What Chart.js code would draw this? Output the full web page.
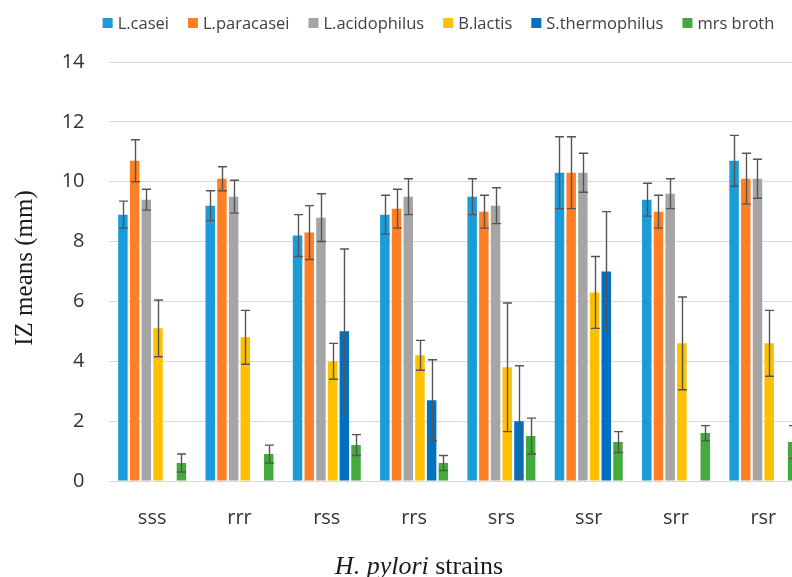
<!DOCTYPE html>
<html>
<head>
<meta charset="utf-8">
<title>IZ means by H. pylori strain</title>
<script src="https://cdn.jsdelivr.net/npm/chart.js@4.4.1/dist/chart.umd.min.js"></script>
<style>
  html, body { margin:0; padding:0; background:#fff; overflow:hidden; }
  #wrap { width:815px; height:577px; }
</style>
</head>
<body>
<div id="wrap"><canvas id="izChart" width="815" height="577"></canvas></div>
<script>
// ── Data ──
const strains = ['sss','rrr','rss','rrs','srs','ssr','srr','rsr'];
const yTicks  = [0,2,4,6,8,10,12,14];

const lCasei        = [8.9, 9.2, 8.2, 8.9, 9.5, 10.3, 9.4, 10.7];
const lCaseiErr     = [0.45,0.5, 0.7, 0.65,0.6, 1.2,  0.55,0.85];
const lParacasei    = [10.7,10.1,8.3, 9.1, 9.0, 10.3, 9.0, 10.1];
const lParacaseiErr = [0.7, 0.4, 0.9, 0.65,0.55,1.2,  0.55,0.85];
const lAcido        = [9.4, 9.5, 8.8, 9.5, 9.2, 10.3, 9.6, 10.1];
const lAcidoErr     = [0.35,0.55,0.8, 0.6, 0.6, 0.65, 0.5, 0.65];
const bLactis       = [5.1, 4.8, 4.0, 4.2, 3.8, 6.3,  4.6, 4.6];
const bLactisErr    = [0.95,0.9, 0.6, 0.5, 2.15,1.2,  1.55,1.1];
const sThermo       = [null,null,5.0, 2.7, 2.0, 7.0,  null,null];
const sThermoErr    = [null,null,2.75,1.35,1.85,2.0,  null,null];
const mrsBroth      = [0.6, 0.9, 1.2, 0.6, 1.5, 1.3,  1.6, 1.3];
const mrsBrothErr   = [0.3, 0.3, 0.35,0.25,0.6, 0.35, 0.25,0.55];

const series = [
  { label:'L.casei',        data:lCasei,     err:lCaseiErr,     color:'#1B9BD7' },
  { label:'L.paracasei',    data:lParacasei, err:lParacaseiErr, color:'#FF7F27' },
  { label:'L.acidophilus',  data:lAcido,     err:lAcidoErr,     color:'#A5A5A5' },
  { label:'B.lactis',       data:bLactis,    err:bLactisErr,    color:'#FFC000' },
  { label:'S.thermophilus', data:sThermo,    err:sThermoErr,    color:'#0070C0' },
  { label:'mrs broth',      data:mrsBroth,   err:mrsBrothErr,   color:'#43AB3B' }
];

const tickFont = { family:'"Open Sans", sans-serif', size:20 };
const textCol  = '#333';

// ── Error bars ──
const errorBars = {
  id:'errorBars',
  afterDatasetsDraw(chart){
    const {ctx} = chart;
    const y = chart.scales.y;
    ctx.save();
    ctx.strokeStyle = '#555';
    ctx.lineWidth = 1.4;
    chart.data.datasets.forEach((ds, i) => {
      const meta = chart.getDatasetMeta(i);
      meta.data.forEach((bar, j) => {
        const v = ds.data[j], e = ds.err[j];
        if(v == null || e == null) return;
        const top = y.getPixelForValue(v + e);
        const bot = y.getPixelForValue(v - e);
        const x = Math.round(bar.x) + 0.5;
        ctx.beginPath();
        ctx.moveTo(x, top); ctx.lineTo(x, bot);
        ctx.moveTo(x - 4.5, top); ctx.lineTo(x + 4.5, top);
        ctx.moveTo(x - 4.5, bot); ctx.lineTo(x + 4.5, bot);
        ctx.stroke();
      });
    });
    ctx.restore();
  }
};

// ── Legend + axis titles ──
const decorations = {
  id:'decorations',
  afterDraw(chart){
    const {ctx} = chart;
    ctx.save();

    // legend row
    ctx.font = '16.5px "Open Sans", sans-serif';
    ctx.textBaseline = 'middle';
    ctx.textAlign = 'left';
    const box = 10, gapIn = 5, gapOut = 19;
    const items = chart.data.datasets.map(d => ({ t:d.label, c:d.backgroundColor, w:ctx.measureText(d.label).width }));
    const total = items.reduce((s, it) => s + box + gapIn + it.w, 0) + gapOut * (items.length - 1);
    let lx = 438.5 - total / 2;
    const ly = 23;
    items.forEach(it => {
      ctx.fillStyle = it.c;
      ctx.fillRect(lx, ly - box / 2, box, box);
      ctx.fillStyle = '#404040';
      ctx.fillText(it.t, lx + box + gapIn, ly + 1);
      lx += box + gapIn + it.w + gapOut;
    });

    // y title
    ctx.fillStyle = '#1a1a1a';
    ctx.font = '25px "Liberation Serif", serif';
    ctx.textAlign = 'center';
    ctx.save();
    ctx.translate(25, 268);
    ctx.rotate(-Math.PI / 2);
    ctx.fillText('IZ means (mm)', 0, 0);
    ctx.restore();

    // x title, italic species name
    const ital = 'italic 26px "Liberation Serif", serif';
    const norm = '26px "Liberation Serif", serif';
    ctx.textAlign = 'left';
    ctx.textBaseline = 'alphabetic';
    ctx.font = ital; const w1 = ctx.measureText('H. pylori').width;
    ctx.font = norm; const w2 = ctx.measureText(' strains').width;
    const sx = 419 - (w1 + w2) / 2;
    ctx.font = ital; ctx.fillText('H. pylori', sx, 574);
    ctx.font = norm; ctx.fillText(' strains', sx + w1, 574);

    ctx.restore();
  }
};

new Chart(document.getElementById('izChart').getContext('2d'), {
  type:'bar',
  data:{
    labels: strains,
    datasets: series.map(s => ({
      label: s.label,
      data: s.data,
      err: s.err,
      backgroundColor: s.color,
      borderWidth: 0,
      categoryPercentage: 0.804,
      barPercentage: 0.81
    }))
  },
  options:{
    responsive:false,
    animation:false,
    layout:{ padding:{ top:62, right:8, bottom:0, left:0 } },
    plugins:{
      legend:{ display:false },
      tooltip:{ enabled:false }
    },
    scales:{
      x:{
        grid:{ display:false },
        border:{ display:false },
        ticks:{ color:textCol, font:tickFont, padding:17, maxRotation:0 },
        afterFit: s => { s.height = 96; }
      },
      y:{
        min:0, max:14,
        afterBuildTicks: s => { s.ticks = yTicks.map(v => ({ value:v })); },
        grid:{ color:'#d9d9d9', lineWidth:1, drawTicks:false },
        border:{ display:false },
        ticks:{ color:textCol, font:tickFont, padding:24 },
        afterFit: s => { s.width = 108.5; }
      }
    }
  },
  plugins:[errorBars, decorations]
});
</script>
</body>
</html>
